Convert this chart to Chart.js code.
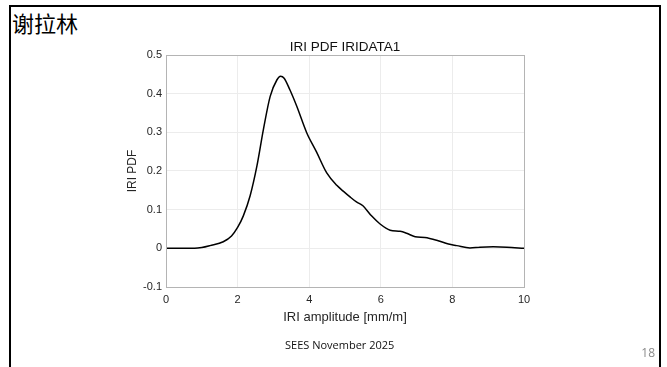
<!DOCTYPE html>
<html lang="zh">
<head>
    <meta charset="UTF-8">
    <title>IRI PDF IRIDATA1</title>
    <script src="https://cdn.jsdelivr.net/npm/chart.js"></script>
    <style>
        html, body { margin: 0; padding: 0; background: #fff; }
        .slide { position: relative; width: 667px; height: 367px; overflow: hidden; }
        /* Folienrahmen */
        .frame {
            position: absolute; left: 9px; top: 5px; width: 648px; height: 400px;
            border: 2px solid #000; border-bottom: none;
        }
        .slide-title {
            position: absolute; left: 12px; top: 6px;
            font: 22px "Noto Sans CJK SC", sans-serif; color: #000;
        }
        .footer {
            position: absolute; left: 285px; top: 337px;
            font: 11px "Open Sans", sans-serif; color: #111;
        }
        .page-no {
            position: absolute; right: 12px; top: 344px;
            font: 12px "Open Sans", sans-serif; color: #8a8a8a;
        }
        canvas { position: absolute; left: 0; top: 0; }
    </style>
</head>
<body>
<div class="slide">
    <div class="frame"></div>
    <div class="slide-title">谢拉林</div>
    <canvas id="pdfChart" width="667" height="367"></canvas>
    <div class="footer">SEES November 2025</div>
    <div class="page-no">18</div>
</div>

<script>
    // Werte
    const iriX = [0, 0.5, 0.8, 1.0, 1.23, 1.6, 1.83, 2.0, 2.16, 2.35, 2.54, 2.72, 2.91, 3.1, 3.2, 3.3,
                  3.46, 3.65, 3.93, 4.2, 4.49, 4.77, 4.95, 5.14, 5.32, 5.5, 5.74, 5.98, 6.26, 6.54,
                  6.72, 6.96, 7.23, 7.56, 7.89, 8.12, 8.49, 8.77, 9.14, 9.52, 10];
    const iriPdf = [0, 0, 0, 0.002, 0.007, 0.017, 0.032, 0.054, 0.084, 0.136, 0.213, 0.307, 0.393, 0.436, 0.445, 0.44,
                    0.41, 0.368, 0.299, 0.25, 0.195, 0.163, 0.148, 0.133, 0.12, 0.11, 0.084, 0.063, 0.047, 0.044,
                    0.039, 0.03, 0.028, 0.021, 0.011, 0.007, 0.001, 0.003, 0.004, 0.003, 0];
    const xTicks = [0, 2, 4, 6, 8, 10];
    const yTicks = [-0.1, 0, 0.1, 0.2, 0.3, 0.4, 0.5];

    const points = iriX.map((x, i) => ({ x: x, y: iriPdf[i] }));
    const tickFont = { family: 'Liberation Sans', size: 11 };

    // Rahmen um die Zeichenfläche (box on) + Titel
    const boxPlugin = {
        id: 'box',
        afterDraw(chart) {
            const a = chart.chartArea, c = chart.ctx;
            c.save();
            c.strokeStyle = '#b4b4b4';
            c.lineWidth = 1;
            c.strokeRect(Math.round(a.left) + 0.5, Math.round(a.top) + 0.5,
                         Math.round(a.right - a.left), Math.round(a.bottom - a.top));
            c.fillStyle = '#111';
            c.font = '13.5px "Liberation Sans"';
            c.textAlign = 'center';
            c.textBaseline = 'bottom';
            c.fillText('IRI PDF IRIDATA1', (a.left + a.right) / 2, a.top - 1);
            c.restore();
        }
    };

    new Chart(document.getElementById('pdfChart'), {
        type: 'line',
        data: {
            datasets: [{
                data: points,
                borderColor: '#000',
                borderWidth: 1.5,
                pointRadius: 0,
                fill: false,
                cubicInterpolationMode: 'monotone'
            }]
        },
        options: {
            responsive: false,
            animation: false,
            layout: { padding: { left: 123, top: 55, right: 143, bottom: 40 } },
            plugins: { legend: { display: false }, tooltip: { enabled: false } },
            scales: {
                x: {
                    type: 'linear', min: 0, max: 10,
                    afterBuildTicks: s => { s.ticks = xTicks.map(v => ({ value: v })); },
                    afterFit: s => { s.height = 40; },
                    grid: { color: '#ececec', drawTicks: false },
                    border: { display: false },
                    ticks: { font: tickFont, color: '#262626', padding: 6, maxRotation: 0 },
                    title: { display: true, text: 'IRI amplitude [mm/m]', color: '#262626',
                             font: { family: 'Liberation Sans', size: 13 }, padding: 2 }
                },
                y: {
                    min: -0.1, max: 0.5,
                    afterBuildTicks: s => { s.ticks = yTicks.map(v => ({ value: v })); },
                    afterFit: s => { s.width = 43; },
                    grid: { color: '#ececec', drawTicks: false },
                    border: { display: false },
                    ticks: { font: tickFont, color: '#262626', padding: 4 },
                    title: { display: true, text: 'IRI PDF', color: '#262626',
                             font: { family: 'Liberation Sans', size: 12 }, padding: 2 }
                }
            }
        },
        plugins: [boxPlugin]
    });
</script>
</body>
</html>
